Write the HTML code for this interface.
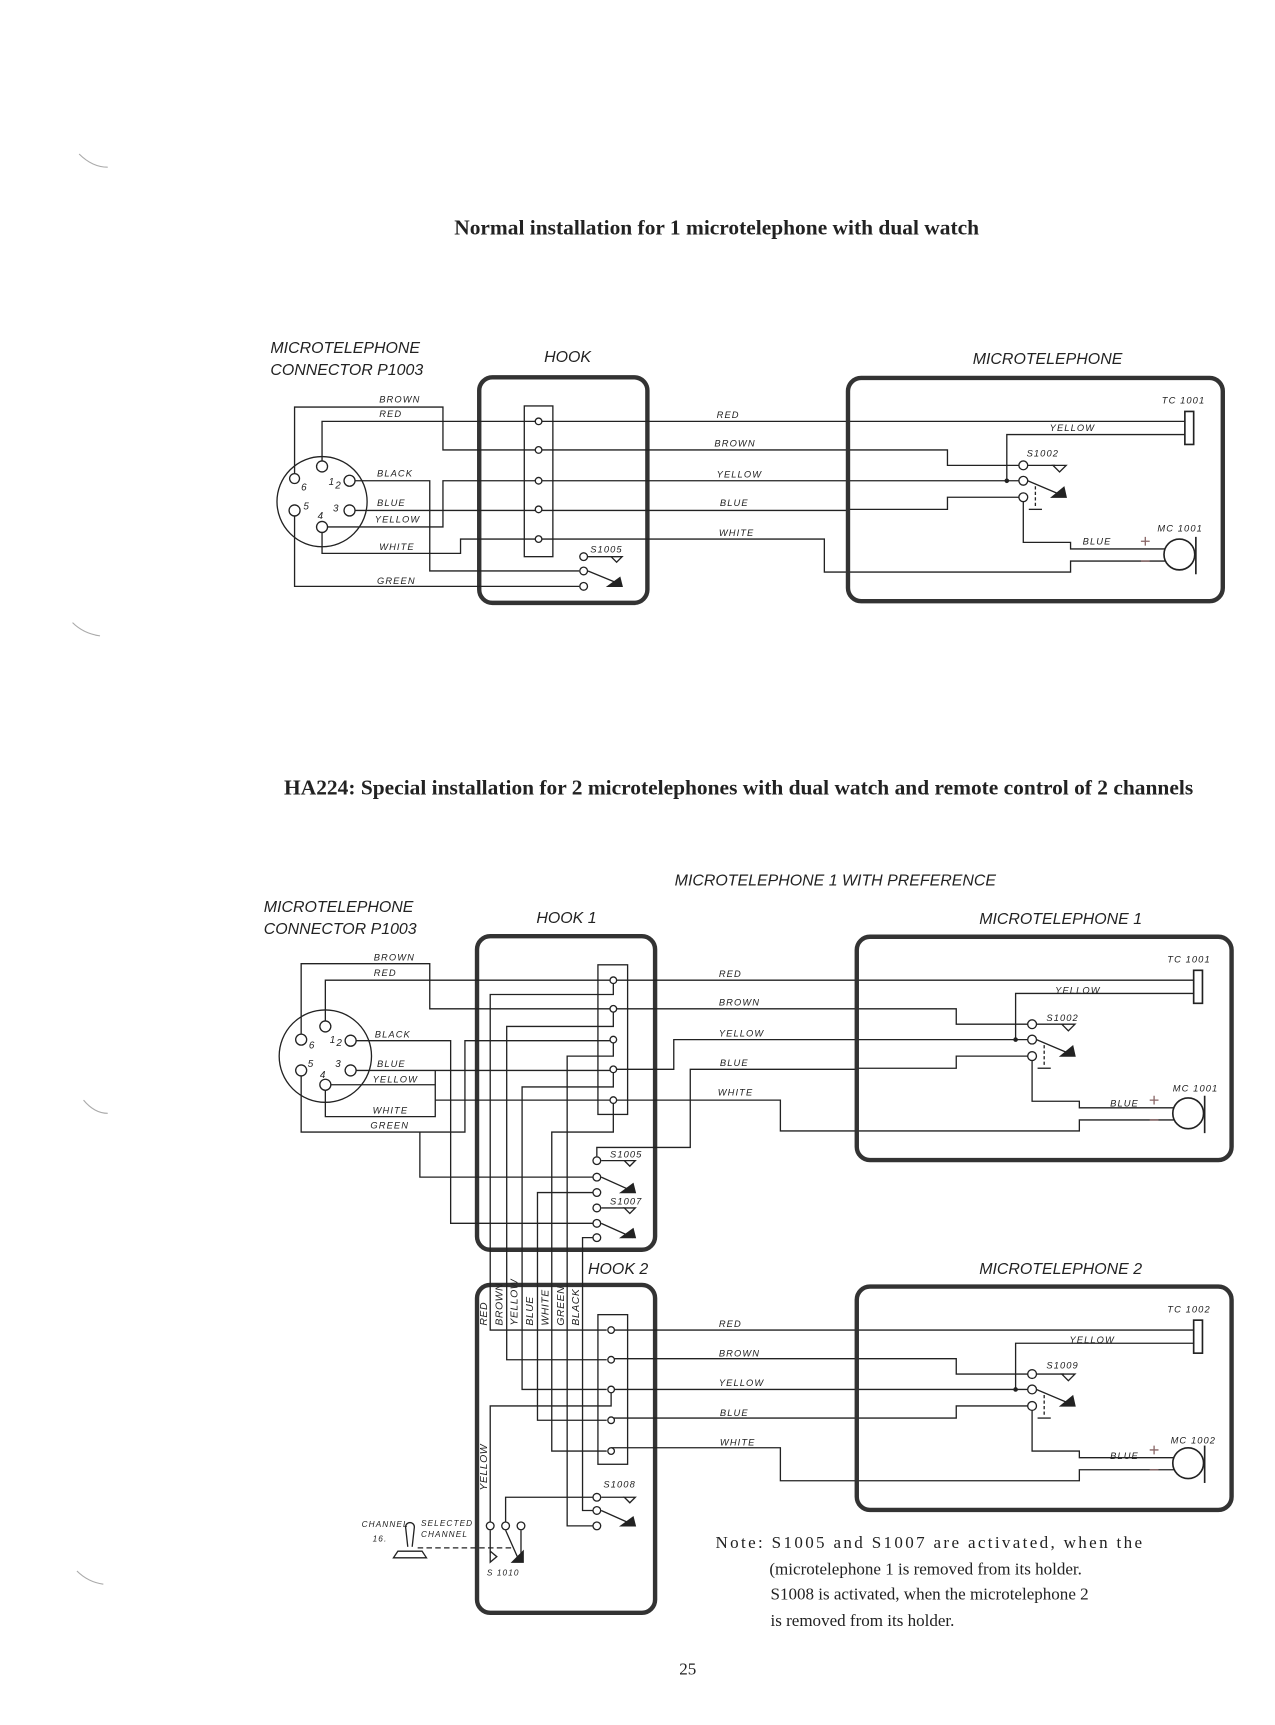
<!DOCTYPE html>
<html><head><meta charset="utf-8"><style>
html,body{margin:0;padding:0;background:#fff;}
svg{display:block;}
.t{font-family:"Liberation Sans",sans-serif;font-style:italic;fill:#222;}
.h{font-size:14.5px;}
.w{font-size:8.5px;letter-spacing:1px;}
.s{font-family:"Liberation Serif",serif;fill:#222;}
</style></head><body>
<svg width="1275" height="1725" viewBox="0 0 1160 1568" preserveAspectRatio="none" xmlns="http://www.w3.org/2000/svg">
<defs>
<g id="mic" fill="none" stroke="#222" stroke-width="1.2">
<path d="M0,41H308M308,53H146V95M0,67H92V81H157M165,81H190M0,95H157M165,95L198,109M0,121H92V110H157M161,114V151H204V157H290M0,178H204V168H290"/>
<rect x="308" y="32" width="8" height="30" stroke-width="1.5"/>
<circle cx="161" cy="81" r="4" fill="#fff"/><circle cx="161" cy="95" r="4" fill="#fff"/><circle cx="161" cy="110" r="4" fill="#fff"/>
<circle cx="146" cy="95" r="1.5" fill="#222"/>
<polygon points="188,81 200,81 194,87"/>
<polygon points="187,110 200,110 198,101" fill="#222"/>
<path d="M172,100V118" stroke-dasharray="3,2"/><path d="M166,121H178"/>
<circle cx="303" cy="162" r="14" stroke-width="1.5"/><path d="M318,146V180" stroke-width="1.5"/>
<path d="M268,150H276M272,146V154M268,168H276" stroke="#866"/>
<rect x="1.5" y="1.5" width="341" height="203" rx="12" stroke="#333" stroke-width="4"/>
</g>
</defs>

<g fill="none" stroke="#aaa" stroke-width="1"><path d="M72,140q12,12 26,12"/><path d="M66,566q10,10 25,12"/><path d="M76,1000q10,12 22,12"/><path d="M70,1428q10,10 24,12"/></g>

<text x="652" y="213" text-anchor="middle" class="s" font-size="19.5" font-weight="bold">Normal installation for 1 microtelephone with dual watch</text>

<!-- TOP -->
<text x="246" y="321" class="t h">MICROTELEPHONE</text>
<text x="246" y="341" class="t h">CONNECTOR  P1003</text>
<text x="495" y="329" class="t h">HOOK</text>
<text x="885" y="331" class="t h">MICROTELEPHONE</text>
<rect x="436" y="343" width="153" height="205" rx="12" fill="none" stroke="#333" stroke-width="4"/>
<g fill="none" stroke="#222" stroke-width="1.2">
<circle cx="293" cy="456" r="41"/>
<rect x="477" y="369" width="26" height="137"/>
<path d="M268,431V370H403V409H770M293,420V383H770M322,437H391V519H527M322,464H770M297,479H403V437H770M293,482V503H419V490H750V520H770M268,468V533H527M535,506H556M535,519L564,531"/>
<polygon points="556,506 566,506 561,511"/>
<polygon points="553,533 566,533 564,525" fill="#222"/>
<circle cx="268" cy="435" r="4.5" fill="#fff"/><circle cx="293" cy="424" r="5" fill="#fff"/><circle cx="318" cy="437" r="5" fill="#fff"/>
<circle cx="318" cy="464" r="5" fill="#fff"/><circle cx="268" cy="464" r="5" fill="#fff"/><circle cx="293" cy="479" r="5" fill="#fff"/>
<circle cx="490" cy="383" r="3" fill="#fff"/><circle cx="490" cy="409" r="3" fill="#fff"/><circle cx="490" cy="437" r="3" fill="#fff"/><circle cx="490" cy="463" r="3" fill="#fff"/><circle cx="490" cy="490" r="3" fill="#fff"/>
<circle cx="531" cy="506" r="3.5" fill="#fff"/><circle cx="531" cy="519" r="3.5" fill="#fff"/><circle cx="531" cy="533" r="3.5" fill="#fff"/>
</g>
<g class="t" font-size="9"><text x="274" y="446">6</text><text x="299" y="441">1</text><text x="305" y="444">2</text><text x="303" y="465">3</text><text x="276" y="463">5</text><text x="289" y="472">4</text></g>
<g class="t w"><text x="345" y="366">BROWN</text><text x="345" y="379">RED</text><text x="343" y="433">BLACK</text><text x="343" y="460">BLUE</text><text x="341" y="475">YELLOW</text><text x="345" y="500">WHITE</text><text x="343" y="531">GREEN</text>
<text x="537" y="502">S1005</text>
<text x="652" y="380">RED</text><text x="650" y="406">BROWN</text><text x="652" y="434">YELLOW</text><text x="655" y="460">BLUE</text><text x="654" y="487">WHITE</text></g>
<use href="#mic" x="770" y="342"/>
<g class="t w"><text x="1057" y="367">TC 1001</text><text x="955" y="392">YELLOW</text><text x="934" y="415">S1002</text><text x="1053" y="483">MC 1001</text><text x="985" y="495">BLUE</text></g>

<!-- BOTTOM -->
<text x="672" y="722" text-anchor="middle" class="s" font-size="19.5" font-weight="bold">HA224: Special installation for 2 microtelephones with dual watch and remote control of 2 channels</text>
<text x="760" y="805" text-anchor="middle" class="t h">MICROTELEPHONE  1  WITH  PREFERENCE</text>
<text x="240" y="829" class="t h">MICROTELEPHONE</text>
<text x="240" y="849" class="t h">CONNECTOR  P1003</text>
<text x="488" y="839" class="t h">HOOK  1</text>
<text x="965" y="840" text-anchor="middle" class="t h">MICROTELEPHONE  1</text>
<text x="535" y="1158" class="t h">HOOK 2</text>
<text x="965" y="1158" text-anchor="middle" class="t h">MICROTELEPHONE  2</text>

<rect x="434" y="851" width="162" height="285" rx="12" fill="none" stroke="#333" stroke-width="4"/>
<rect x="434" y="1168" width="162" height="298" rx="12" fill="none" stroke="#333" stroke-width="4"/>
<g fill="none" stroke="#222" stroke-width="1.2">
<circle cx="296" cy="960" r="42"/>
<rect x="544" y="877" width="27" height="136"/>
<rect x="544" y="1195" width="27" height="136"/>
<path d="M274,940V876H391V917H778M296,929V891H778M324,946H410V1112H540M324,973H558M301,986H396V1015H296V991M396,973V1015M396,1000H558M274,978V1029H423V946H558M382,1029V1070H540"/>
<path d="M558,891V904H446V1209H552M558,917V933H461V1236H552M558,946V960H516V1387H540M558,972V988H475V1263H552M558,1000V1029H502V1319H552M540,1084H489V1291H552M540,1125H530V1373H540"/>
<path d="M558,972H613V945H778M558,1000H710V1028H778M778,972H628V1043H543V1051M547,1055H568M547,1070L576,1083M547,1098H568M547,1112L576,1125"/>
<polygon points="568,1055 578,1055 573,1060"/><polygon points="565,1084 578,1084 576,1076" fill="#222"/>
<polygon points="568,1098 578,1098 573,1103"/><polygon points="565,1125 578,1125 576,1117" fill="#222"/>
<path d="M556,1209H778M556,1235H778M556,1263H778M556,1289H778M556,1316H710V1346H778M556,1263V1278H446V1383M540,1361H460V1383M547,1361H568M547,1373L576,1386M446,1391V1412M460,1391L472,1418M474,1391V1418"/>
<polygon points="568,1361 578,1361 573,1366"/><polygon points="565,1387 578,1387 576,1379" fill="#222"/>
<polygon points="446,1410 446,1420 452,1415"/><polygon points="466,1420 476,1420 476,1410" fill="#222"/>
<path d="M380,1407H466" stroke-dasharray="5,3"/>
<path d="M371,1406l-2,-18a4,4 0 0 1 8,0l-2,18M358,1416l4,-6h22l4,6z"/>
<circle cx="274" cy="945" r="5" fill="#fff"/><circle cx="296" cy="933" r="5" fill="#fff"/><circle cx="319" cy="946" r="5" fill="#fff"/>
<circle cx="319" cy="973" r="5" fill="#fff"/><circle cx="274" cy="973" r="5" fill="#fff"/><circle cx="296" cy="986" r="5" fill="#fff"/>
<g fill="#fff"><circle cx="558" cy="891" r="3"/><circle cx="558" cy="917" r="3"/><circle cx="558" cy="945" r="3"/><circle cx="558" cy="972" r="3"/><circle cx="558" cy="1000" r="3"/>
<circle cx="556" cy="1209" r="3"/><circle cx="556" cy="1236" r="3"/><circle cx="556" cy="1263" r="3"/><circle cx="556" cy="1291" r="3"/><circle cx="556" cy="1319" r="3"/>
<circle cx="543" cy="1055" r="3.5"/><circle cx="543" cy="1070" r="3.5"/><circle cx="543" cy="1084" r="3.5"/><circle cx="543" cy="1098" r="3.5"/><circle cx="543" cy="1112" r="3.5"/><circle cx="543" cy="1125" r="3.5"/>
<circle cx="543" cy="1361" r="3.5"/><circle cx="543" cy="1373" r="3.5"/><circle cx="543" cy="1387" r="3.5"/>
<circle cx="446" cy="1387" r="3.5"/><circle cx="460" cy="1387" r="3.5"/><circle cx="474" cy="1387" r="3.5"/></g>
</g>
<g class="t" font-size="9"><text x="281" y="953">6</text><text x="300" y="948">1</text><text x="306" y="951">2</text><text x="305" y="970">3</text><text x="280" y="970">5</text><text x="291" y="980">4</text></g>
<g class="t w"><text x="340" y="873">BROWN</text><text x="340" y="887">RED</text><text x="341" y="943">BLACK</text><text x="343" y="970">BLUE</text><text x="339" y="984">YELLOW</text><text x="339" y="1012">WHITE</text><text x="337" y="1026">GREEN</text>
<text x="555" y="1052">S1005</text><text x="555" y="1095">S1007</text><text x="549" y="1352">S1008</text>
<text x="654" y="888">RED</text><text x="654" y="914">BROWN</text><text x="654" y="942">YELLOW</text><text x="655" y="969">BLUE</text><text x="653" y="996">WHITE</text>
<text x="654" y="1206">RED</text><text x="654" y="1233">BROWN</text><text x="654" y="1260">YELLOW</text><text x="655" y="1287">BLUE</text><text x="655" y="1314">WHITE</text>
<text x="329" y="1388" font-size="7.5">CHANNEL</text><text x="339" y="1401" font-size="7.5">16.</text>
<text x="383" y="1387" font-size="7.5">SELECTED</text><text x="383" y="1397" font-size="7.5">CHANNEL</text>
<text x="443" y="1432" font-size="7.5">S 1010</text></g>
<g class="t" font-size="9.5" letter-spacing="0.5">
<text transform="translate(443,1205) rotate(-90)">RED</text>
<text transform="translate(457,1205) rotate(-90)">BROWN</text>
<text transform="translate(471,1205) rotate(-90)">YELLOW</text>
<text transform="translate(485,1205) rotate(-90)">BLUE</text>
<text transform="translate(499,1205) rotate(-90)">WHITE</text>
<text transform="translate(513,1205) rotate(-90)">GREEN</text>
<text transform="translate(527,1205) rotate(-90)">BLACK</text>
<text transform="translate(443,1355) rotate(-90)">YELLOW</text>
</g>
<use href="#mic" x="778" y="850"/>
<use href="#mic" x="778" y="1168"/>
<g class="t w"><text x="1062" y="875">TC 1001</text><text x="960" y="903">YELLOW</text><text x="952" y="928">S1002</text><text x="1067" y="992">MC 1001</text><text x="1010" y="1006">BLUE</text>
<text x="1062" y="1193">TC 1002</text><text x="973" y="1221">YELLOW</text><text x="952" y="1244">S1009</text><text x="1065" y="1312">MC 1002</text><text x="1010" y="1326">BLUE</text></g>

<g class="s" font-size="15.5">
<text x="651" y="1407" textLength="388">Note: S1005 and S1007 are activated, when the</text>
<text x="700" y="1431">(microtelephone 1 is removed from its holder.</text>
<text x="701" y="1454">S1008 is activated, when the microtelephone 2</text>
<text x="701" y="1478">is removed from its holder.</text>
<text x="618" y="1522">25</text>
</g>
</svg>
</body></html>
